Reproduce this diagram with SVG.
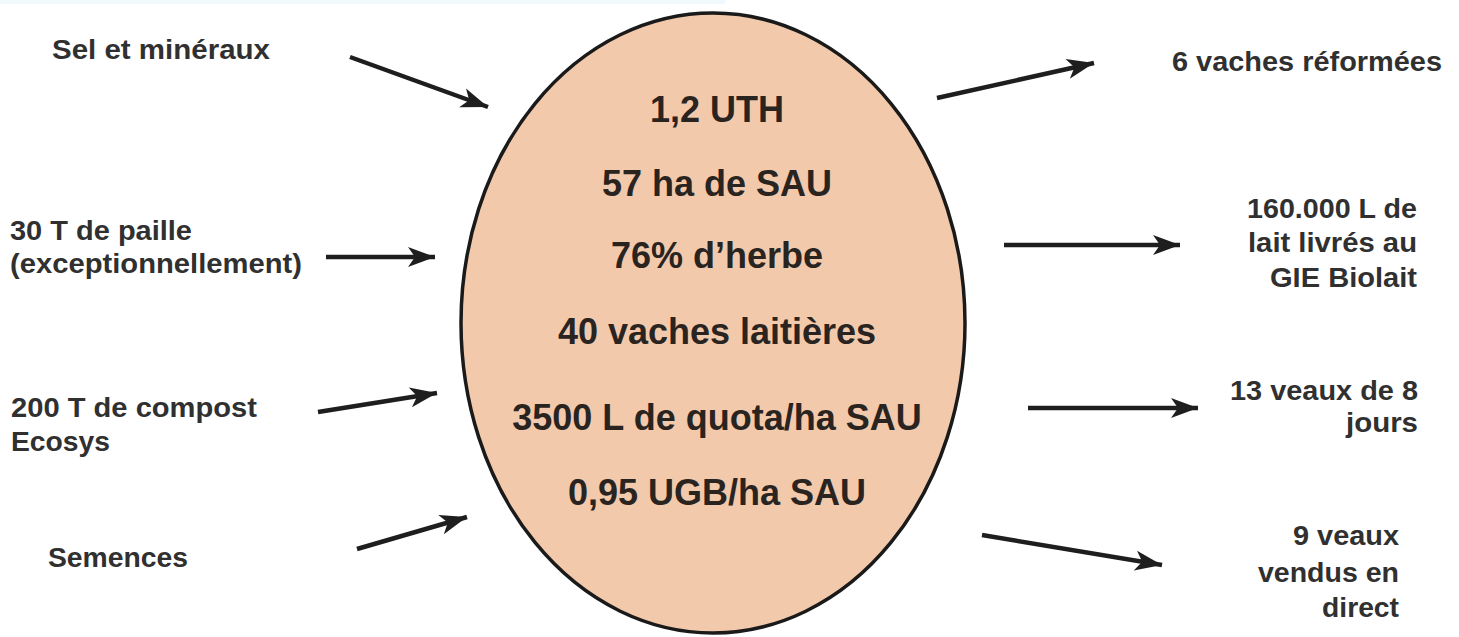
<svg xmlns="http://www.w3.org/2000/svg" width="1459" height="637" viewBox="0 0 1459 637">
<style>
.lbl{font-family:"Liberation Sans",Arial,sans-serif;font-weight:bold;font-size:27.5px;fill:#303030}
.ctr{font-family:"Liberation Sans",Arial,sans-serif;font-weight:bold;font-size:36px;fill:#2a2420;text-anchor:middle}
.r{text-anchor:end}
.arr{stroke:#1e1e1e;stroke-width:4.5;fill:none;marker-end:url(#ah)}
</style>
<defs>
<marker id="ah" markerUnits="userSpaceOnUse" viewBox="-2 -12 32 24" refX="27" refY="0" markerWidth="32" markerHeight="24" orient="auto">
<path d="M0,-10 L27,0 L0,10 L7,0 Z" fill="#1e1e1e"/>
</marker>
</defs>
<rect x="0" y="0" width="1459" height="637" fill="#ffffff"/>
<rect x="0" y="0" width="725" height="4" fill="#f0fafd"/>
<g id="farm">
<ellipse cx="713" cy="323" rx="252" ry="310" fill="#f3c9ac" stroke="#1a1a1a" stroke-width="3.5"/>
<text class="ctr" x="717" y="122">1,2 UTH</text>
<text class="ctr" x="717" y="196">57 ha de SAU</text>
<text class="ctr" x="717" y="268">76% d’herbe</text>
<text class="ctr" x="717" y="344">40 vaches laitières</text>
<text class="ctr" x="717" y="430">3500 L de quota/ha SAU</text>
<text class="ctr" x="717" y="505">0,95 UGB/ha SAU</text>
</g>
<g id="in-sel"><text class="lbl" x="52" y="59" textLength="218" lengthAdjust="spacingAndGlyphs">Sel et minéraux</text></g>
<g id="in-paille">
<text class="lbl" x="10" y="240" textLength="182" lengthAdjust="spacingAndGlyphs">30 T de paille</text>
<text class="lbl" x="10" y="273" textLength="292" lengthAdjust="spacingAndGlyphs">(exceptionnellement)</text>
</g>
<g id="in-compost">
<text class="lbl" x="11" y="417" textLength="246" lengthAdjust="spacingAndGlyphs">200 T de compost</text>
<text class="lbl" x="11" y="451" textLength="99" lengthAdjust="spacingAndGlyphs">Ecosys</text>
</g>
<g id="in-semences"><text class="lbl" x="48" y="567" textLength="140" lengthAdjust="spacingAndGlyphs">Semences</text></g>
<g id="out-reforme"><text class="lbl r" x="1442" y="71" textLength="270" lengthAdjust="spacingAndGlyphs">6 vaches réformées</text></g>
<g id="out-lait">
<text class="lbl r" x="1417" y="218" textLength="170" lengthAdjust="spacingAndGlyphs">160.000 L de</text>
<text class="lbl r" x="1417" y="252" textLength="169" lengthAdjust="spacingAndGlyphs">lait livrés au</text>
<text class="lbl r" x="1417" y="287" textLength="147" lengthAdjust="spacingAndGlyphs">GIE Biolait</text>
</g>
<g id="out-veaux8">
<text class="lbl r" x="1418" y="400" textLength="188" lengthAdjust="spacingAndGlyphs">13 veaux de 8</text>
<text class="lbl r" x="1418" y="432" textLength="72" lengthAdjust="spacingAndGlyphs">jours</text>
</g>
<g id="out-veauxdirect">
<text class="lbl r" x="1399" y="545" textLength="106" lengthAdjust="spacingAndGlyphs">9 veaux</text>
<text class="lbl r" x="1399" y="582" textLength="141" lengthAdjust="spacingAndGlyphs">vendus en</text>
<text class="lbl r" x="1399" y="617" textLength="77" lengthAdjust="spacingAndGlyphs">direct</text>
</g>
<g id="connectors">
<line class="arr" x1="350" y1="57" x2="488" y2="107"/>
<line class="arr" x1="326" y1="257" x2="435" y2="257"/>
<line class="arr" x1="318" y1="412" x2="437" y2="393"/>
<line class="arr" x1="357" y1="549" x2="467" y2="517"/>
<line class="arr" x1="937" y1="98" x2="1094" y2="63"/>
<line class="arr" x1="1004" y1="245" x2="1180" y2="245"/>
<line class="arr" x1="1028" y1="408" x2="1198" y2="408"/>
<line class="arr" x1="982" y1="535" x2="1162" y2="565"/>
</g>
</svg>
